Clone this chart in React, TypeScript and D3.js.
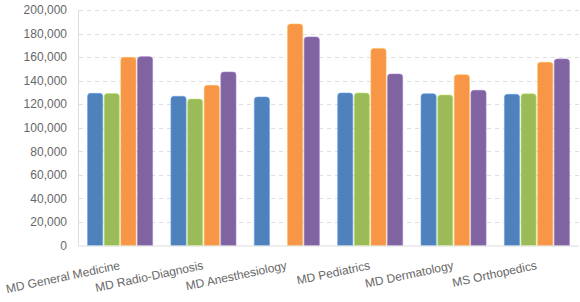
import React from "react";
import * as d3 from "d3";

const categories = [
  "MD General Medicine",
  "MD Radio-Diagnosis",
  "MD Anesthesiology",
  "MD Pediatrics",
  "MD Dermatology",
  "MS Orthopedics",
];
const seriesNames = ["Series 1", "Series 2", "Series 3", "Series 4"];
const series1 = [129200, 126700, 126100, 129500, 128900, 128400];
const series2 = [129000, 124400, 0, 129500, 127800, 128900];
const series3 = [159800, 136000, 188100, 167400, 145000, 155600];
const series4 = [160400, 147300, 177100, 145600, 131800, 158400];
const seriesData = [series1, series2, series3, series4];
const colors = ["#4f81bd", "#9bbb59", "#f79646", "#8064a2"];
const yTicks = [0, 20000, 40000, 60000, 80000, 100000, 120000, 140000, 160000, 180000, 200000];

const W = 580;
const H = 302;
const left = 78;
const right = 579;
const top = 10;
const bottom = 245.5;

function barPath(x: number, y: number, w: number, h: number, r: number) {
  const rr = Math.min(r, h, w / 2);
  return `M${x},${y + h}V${y + rr}Q${x},${y} ${x + rr},${y}H${x + w - rr}Q${x + w},${y} ${x + w},${y + rr}V${y + h}Z`;
}

export default function App() {
  const x0 = d3.scaleBand<string>().domain(categories).range([left, right]).paddingInner(0.22).paddingOuter(0.115);
  const x1 = d3.scaleBand<number>().domain([0, 1, 2, 3]).range([0, x0.bandwidth()]).paddingInner(0.09);
  const y = d3.scaleLinear().domain([0, 200000]).range([bottom, top]);
  const fmt = d3.format(",");
  const font = "Arial, 'Liberation Sans', sans-serif";

  return (
    <svg width={W} height={H} style={{ position: "absolute", left: 0, top: 0 }}>
      <rect width={W} height={H} fill="#fff" />
      {yTicks.slice(1).map((t) => (
        <line key={t} x1={left + 1} x2={right} y1={Math.round(y(t)) + 0.5} y2={Math.round(y(t)) + 0.5}
          stroke="#dfdfdf" strokeDasharray="4,4" />
      ))}
      <line x1={left + 0.5} x2={left + 0.5} y1={top} y2={bottom} stroke="#dcdcdc" />
      {yTicks.map((t) => (
        <text key={t} x={67} y={y(t)} dy="0.35em" textAnchor="end" fontFamily={font} fontSize={12} fill="#676767">
          {fmt(t)}
        </text>
      ))}
      {categories.map((c, i) => (
        <g key={c}>
          {seriesData.map((s, j) => {
            const v = s[i];
            if (!v) return null;
            const bx = (x0(c) as number) + (x1(j) as number);
            const by = y(v);
            return (
              <path key={j} d={barPath(bx, by, x1.bandwidth(), bottom - by, 3)} fill={colors[j]}
                stroke={d3.color(colors[j])!.brighter(0.6).formatHex()} strokeOpacity={0.6} strokeWidth={1} />
            );
          })}
        </g>
      ))}
      <line x1={left} x2={right} y1={bottom + 0.5} y2={bottom + 0.5} stroke="#dcdcdc" />
      {categories.map((c) => {
        const cx = (x0(c) as number) + x0.bandwidth() / 2 + 0.5;
        return (
          <text key={c} transform={`translate(${cx},269) rotate(-12)`} textAnchor="end" fontFamily={font}
            fontSize={12} fill="#676767">
            {c}
          </text>
        );
      })}
    </svg>
  );
}
